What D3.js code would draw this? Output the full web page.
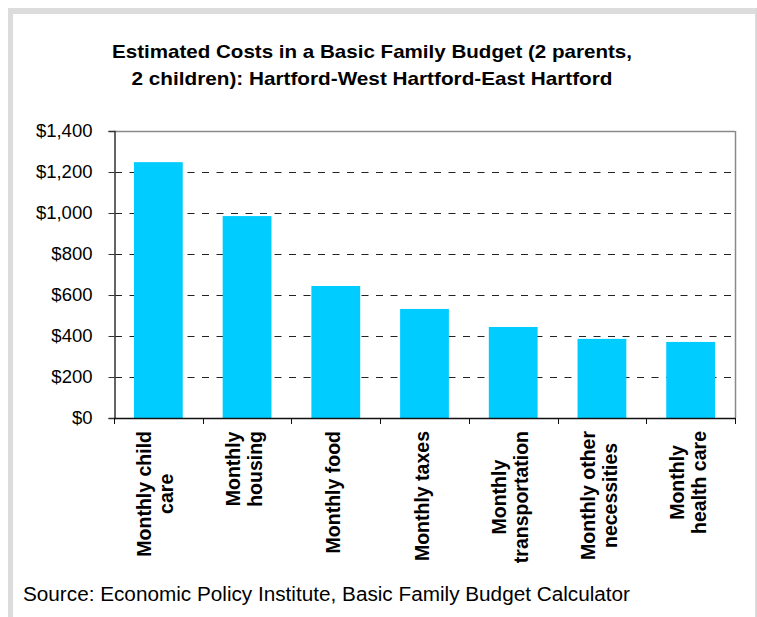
<!DOCTYPE html>
<html>
<head>
<meta charset="utf-8">
<script src="https://cdn.jsdelivr.net/npm/d3@7"></script>
<style>
  html, body { margin: 0; padding: 0; background: #fff; }
  svg { display: block; }
  text { font-family: "Liberation Sans", Arial, sans-serif; fill: #000; }
</style>
</head>
<body>
<script>
const categories = [
  ["Monthly child", "care"],
  ["Monthly", "housing"],
  ["Monthly food"],
  ["Monthly taxes"],
  ["Monthly", "transportation"],
  ["Monthly other", "necessities"],
  ["Monthly", "health care"]
];
const values = [1248, 985, 644, 532, 444, 386, 371];
const yTicks = [0, 200, 400, 600, 800, 1000, 1200, 1400];
const titleLines = [
  "Estimated Costs in a Basic Family Budget (2 parents,",
  "2 children): Hartford-West Hartford-East Hartford"
];
const sourceText = "Source: Economic Policy Institute, Basic Family Budget Calculator";

const W = 757, H = 617;
const plot = { left: 114, right: 735, top: 131, bottom: 418 };

const svg = d3.select("body").append("svg").attr("width", W).attr("height", H);

// frame
svg.append("rect").attr("x", 8).attr("y", 8).attr("width", W - 8).attr("height", H - 8).attr("fill", "#dcdcdc");
svg.append("rect").attr("x", 13).attr("y", 14).attr("width", W - 13 - 2).attr("height", H - 14).attr("fill", "#fff");
svg.append("line").attr("x1", 756.5).attr("x2", 756.5).attr("y1", 8).attr("y2", H).attr("stroke", "#d6d6d6");

const x = d3.scaleBand().domain(d3.range(categories.length)).range([plot.left, plot.right]).paddingInner(0.45).paddingOuter(0.225);
const xb = d3.scaleBand().domain(d3.range(categories.length)).range([plot.left, plot.right]);
const y = d3.scaleLinear().domain([0, 1400]).range([plot.bottom, plot.top]);

// gridlines
svg.append("g").selectAll("line").data(yTicks.filter(d => d > 0 && d < 1400)).join("line")
  .attr("x1", plot.left + 1).attr("x2", plot.right)
  .attr("y1", d => Math.round(y(d)) + 0.5).attr("y2", d => Math.round(y(d)) + 0.5)
  .attr("stroke", "#222").attr("stroke-width", 1.2).attr("stroke-dasharray", "7,7.5");

// plot top & right border
svg.append("line").attr("x1", plot.left).attr("x2", plot.right).attr("y1", plot.top + 0.5).attr("y2", plot.top + 0.5).attr("stroke", "#8a8a8a").attr("stroke-width", 1.5);
svg.append("line").attr("x1", plot.right + 0.5).attr("x2", plot.right + 0.5).attr("y1", plot.top).attr("y2", plot.bottom).attr("stroke", "#8a8a8a").attr("stroke-width", 1.5);

// bars
svg.append("g").selectAll("rect").data(values).join("rect")
  .attr("x", (d, i) => x(i)).attr("width", x.bandwidth())
  .attr("y", d => y(d)).attr("height", d => y(0) - y(d))
  .attr("fill", "#00ccff");

// y axis
const yAxis = d3.axisLeft(y).tickValues(yTicks).tickSize(6).tickPadding(16)
  .tickFormat(d => "$" + d3.format(",")(d));
const gy = svg.append("g").attr("transform", `translate(${plot.left + 0.5},0)`).call(yAxis);
gy.select(".domain").attr("stroke", "#333").attr("stroke-width", 1.5);
gy.selectAll(".tick line").attr("stroke", "#333");
gy.selectAll(".tick text").attr("font-size", 18.5).attr("font-family", "Liberation Sans, Arial, sans-serif").attr("fill", "#000");

// x axis
const bounds = d3.range(categories.length + 1).map(i => plot.left + i * xb.step());
svg.append("line").attr("x1", plot.left).attr("x2", plot.right + 1).attr("y1", plot.bottom + 0.5).attr("y2", plot.bottom + 0.5).attr("stroke", "#111").attr("stroke-width", 1.5);
svg.append("g").selectAll("line").data(bounds).join("line")
  .attr("x1", d => Math.round(d) + 0.5).attr("x2", d => Math.round(d) + 0.5)
  .attr("y1", plot.bottom).attr("y2", plot.bottom + 6).attr("stroke", "#111");

// x labels
const lh = 22;
const gx = svg.append("g");
categories.forEach((lines, i) => {
  const cx = xb(i) + xb.bandwidth() / 2;
  const g = gx.append("g");
  const texts = lines.map((t, j) => g.append("text").text(t)
    .attr("font-size", 19.5).attr("font-weight", "bold").attr("text-anchor", "middle"));
  const maxLen = d3.max(texts, t => t.node().getComputedTextLength());
  const cy = plot.bottom + 13 + maxLen / 2;
  texts.forEach((t, j) => {
    const off = (j - (lines.length - 1) / 2) * lh;
    const px = cx + off;
    t.attr("transform", `translate(${px + 4},${cy}) rotate(-90)`);
  });
});

// title
const titleWidths = [520, 481];
svg.append("g").selectAll("text").data(titleLines).join("text")
  .attr("x", 372).attr("y", (d, i) => 58 + i * 27)
  .attr("text-anchor", "middle").attr("font-size", 19).attr("font-weight", "bold")
  .attr("textLength", (d, i) => titleWidths[i]).attr("lengthAdjust", "spacingAndGlyphs")
  .text(d => d);

// source
svg.append("text").attr("x", 23).attr("y", 601).attr("font-size", 19.5)
  .attr("textLength", 607).attr("lengthAdjust", "spacingAndGlyphs").text(sourceText);
</script>
</body>
</html>
